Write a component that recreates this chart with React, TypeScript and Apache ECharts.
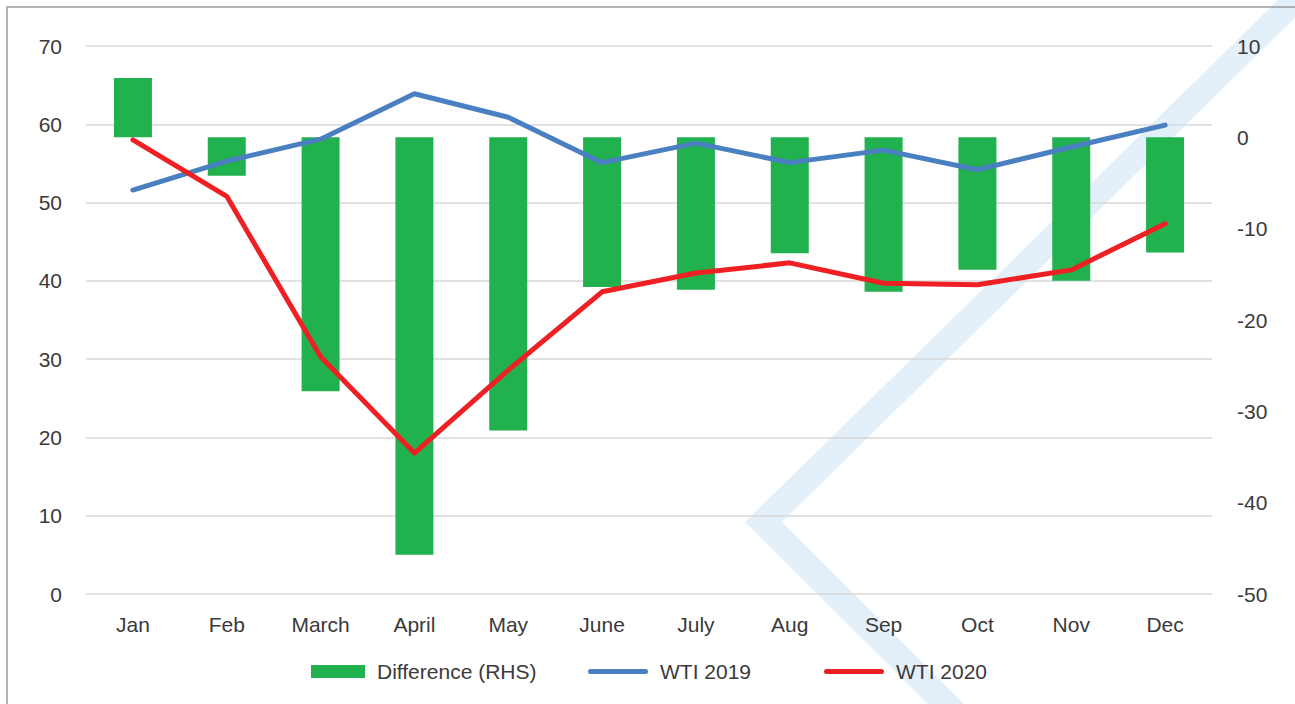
import React, { useEffect, useRef } from "react";
import * as echarts from "echarts";

const months = ["Jan", "Feb", "March", "April", "May", "June", "July", "Aug", "Sep", "Oct", "Nov", "Dec"];
const wti2019 = [51.6, 55.3, 58.1, 63.9, 60.9, 55.1, 57.6, 55.1, 56.7, 54.2, 57.1, 59.9];
const wti2020 = [58.0, 50.8, 30.3, 18.0, 28.6, 38.6, 41.0, 42.3, 39.7, 39.5, 41.4, 47.3];
const difference = [6.5, -4.2, -27.8, -45.7, -32.1, -16.4, -16.7, -12.7, -16.9, -14.5, -15.7, -12.6];
const leftTicks = { min: 0, max: 70, interval: 10 };
const rightTicks = { min: -50, max: 10, interval: 10 };

const FONT = "'Liberation Sans', Arial, sans-serif";
const TXT = "#3a3a3a";
const FS = 21;
const LINE_ICON = "path://M2.5,0 L57.5,0 A2.5,2.5 0 0 1 57.5,5 L2.5,5 A2.5,2.5 0 0 1 2.5,0 Z";

export default function App() {
  const ref = useRef<HTMLDivElement>(null);
  useEffect(() => {
    if (!ref.current) return;
    const chart = echarts.init(ref.current, undefined, { renderer: "svg" });
    const legendText = { fontSize: FS, color: TXT, fontFamily: FONT, padding: [0, 0, 0, 7] };
    chart.setOption({
      animation: false,
      backgroundColor: "#ffffff",
      textStyle: { fontFamily: FONT },
      graphic: {
        elements: [
          {
            type: "polygon",
            z: -10,
            silent: true,
            shape: { points: [[1278, 0], [745, 522], [928, 704], [964, 704], [782, 522], [1313, 0]] },
            style: { fill: "#e4f0f9" },
          },
          {
            type: "polyline",
            z: 100,
            silent: true,
            shape: { points: [[7, 710], [7, 7], [1300, 7]] },
            style: { stroke: "#9a9a9a", lineWidth: 1.5, fill: "none" },
          },
        ],
      },
      grid: { left: 86, right: 83, top: 46, bottom: 110, containLabel: false },
      legend: [
        {
          data: [{ name: "Difference (RHS)", icon: "rect" }],
          left: 311,
          top: 661,
          padding: 0,
          itemWidth: 54,
          itemHeight: 13,
          textStyle: legendText,
        },
        {
          data: [{ name: "WTI 2019", icon: LINE_ICON }],
          left: 588,
          top: 661,
          padding: 0,
          itemWidth: 60,
          itemHeight: 5,
          textStyle: legendText,
        },
        {
          data: [{ name: "WTI 2020", icon: LINE_ICON }],
          left: 824,
          top: 661,
          padding: 0,
          itemWidth: 60,
          itemHeight: 5,
          textStyle: legendText,
        },
      ],
      xAxis: {
        type: "category",
        data: months,
        axisLine: { show: false },
        axisTick: { show: false },
        axisLabel: { fontSize: FS, color: TXT, margin: 20, fontFamily: FONT },
      },
      yAxis: [
        {
          type: "value",
          ...leftTicks,
          position: "left",
          axisLine: { show: false },
          axisTick: { show: false },
          axisLabel: { fontSize: FS, color: TXT, margin: 24, fontFamily: FONT },
          splitLine: { show: true, lineStyle: { color: "#d9d9d9", width: 1.5 } },
        },
        {
          type: "value",
          ...rightTicks,
          position: "right",
          axisLine: { show: false },
          axisTick: { show: false },
          axisLabel: { fontSize: FS, color: TXT, margin: 25, fontFamily: FONT },
          splitLine: { show: false },
        },
      ],
      series: [
        {
          name: "Difference (RHS)",
          type: "bar",
          yAxisIndex: 1,
          data: difference,
          barWidth: 38,
          itemStyle: { color: "#21b14f" },
        },
        {
          name: "WTI 2019",
          type: "line",
          yAxisIndex: 0,
          data: wti2019,
          symbol: "none",
          lineStyle: { color: "#4a7fc1", width: 5, cap: "round", join: "round" },
          itemStyle: { color: "#4a7fc1" },
        },
        {
          name: "WTI 2020",
          type: "line",
          yAxisIndex: 0,
          data: wti2020,
          symbol: "none",
          lineStyle: { color: "#ee2024", width: 5, cap: "round", join: "round" },
          itemStyle: { color: "#ee2024" },
        },
      ],
    });
    return () => chart.dispose();
  }, []);
  return (
    <div
      ref={ref}
      style={{ position: "fixed", left: 0, top: 0, width: 1295, height: 704 }}
    />
  );
}
